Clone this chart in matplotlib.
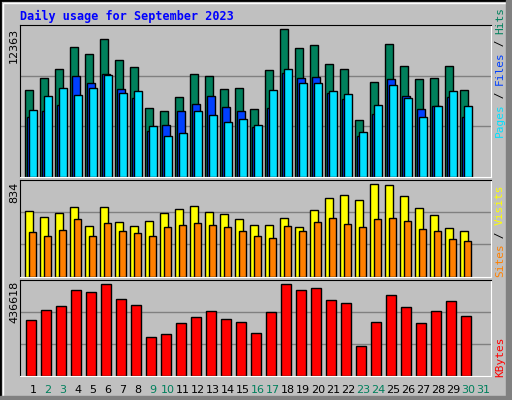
import matplotlib
matplotlib.use("Agg")
import matplotlib.pyplot as plt
from matplotlib.patches import Rectangle

days = list(range(1, 32))
hits_px = [86,98,107,129,122,137,116,109,69,66,79,102,100,87,88,68,106,147,128,131,112,107,57,94,132,110,97,98,110,86]
files_px = [60,66,72,100,93,102,87,78,46,52,66,73,80,70,66,50,69,103,98,99,83,77,41,63,97,80,68,71,79,60]
pages_px = [67,80,88,81,88,101,83,85,51,41,44,66,62,55,58,52,86,107,93,93,85,82,45,72,91,78,60,71,85,71]
visits_px = [196,178,190,208,151,208,163,151,166,190,202,211,193,187,172,154,154,175,148,199,235,244,229,277,274,241,205,184,145,136]
sites_px = [133,121,139,172,121,160,136,130,121,148,154,160,154,148,136,121,115,151,136,163,175,157,148,172,175,166,142,136,112,106]
kb_px = [166,196,208,256,250,274,229,211,115,124,157,175,193,169,160,127,190,274,256,262,226,217,88,160,241,205,157,193,223,178]

HITS_MAX, VIS_MAX, KB_MAX = 12363, 834, 436618
hits = [round(v * HITS_MAX / 147) for v in hits_px]
files = [round(v * HITS_MAX / 147) for v in files_px]
pages = [round(v * HITS_MAX / 147) for v in pages_px]
visits = [round(v * VIS_MAX / 277) for v in visits_px]
sites = [round(v * VIS_MAX / 277) for v in sites_px]
kbytes = [round(v * KB_MAX / 274) for v in kb_px]

weekend = {2,3,9,10,16,17,23,24,30,31}
BG = "#C0C0C0"
fig = plt.figure(figsize=(5.12, 4.0), dpi=100, facecolor=BG)
W, H = 512, 400
def fx(px): return px / W
def fy(py): return 1 - py / H

# outer border
fig.patches.append(Rectangle((0, 0), 1, 1, transform=fig.transFigure, fill=False, edgecolor="black", lw=2))
fig.patches.append(Rectangle((fx(3), fy(397)), fx(505), 394/H, transform=fig.transFigure, fill=False, edgecolor="white", lw=1))
fig.patches.append(Rectangle((fx(506), 0), fx(6), 1, transform=fig.transFigure, color="#808080"))
fig.patches.append(Rectangle((0, 0), 1, 4/H, transform=fig.transFigure, color="#808080"))

x0 = 1 - 13/15
x1 = x0 + 471/15
def mkax(top, bot, ymax):
    ax = fig.add_axes([fx(20), fy(bot), fx(471), (bot-top)/H])
    ax.set_facecolor(BG)
    ax.set_xlim(x0, x1)
    ax.set_ylim(0, ymax)
    for g in (ymax/3, 2*ymax/3):
        ax.axhline(g, color="#808080", lw=1, zorder=0)
    ax.set_xticks([]); ax.set_yticks([])
    for s in ("left", "top"):
        ax.spines[s].set_color("black")
    for s in ("right", "bottom"):
        ax.spines[s].set_color("white")
    return ax

ax1 = mkax(25, 177, HITS_MAX * 151 / 147)
ax2 = mkax(180, 277, VIS_MAX * 289 / 277 / 3 * 1.0 * 3 * 97 / 96.3)
ax2.set_ylim(0, VIS_MAX * 96.3 / 92.3)
ax3 = mkax(280, 376, KB_MAX * 95 / 91.3)

d = days[:len(hits)]
kw = dict(align="edge", edgecolor="black", linewidth=1)
ax1.bar([x - 8/15 for x in d], hits, width=8/15, color="#00805C", **kw)
ax1.bar([x - 6/15 for x in d], files, width=8/15, color="#0040FF", **kw)
ax1.bar([x - 4/15 for x in d], pages, width=8/15, color="#00E0FF", **kw)
ax2.bar([x - 8/15 for x in d], visits, width=8/15, color="#FFFF00", **kw)
ax2.bar([x - 4/15 for x in d], sites, width=7/15, color="#FF8000", **kw)
ax3.bar([x - 7/15 for x in d], kbytes, width=10/15, color="#FF0000", **kw)

mono = "DejaVu Sans Mono"
fig.text(fx(20), fy(16), "Daily usage for September 2023", color="#0000FF", fontsize=8.5,
         fontweight="bold", family=mono, va="center")
for lab, py in ((str(HITS_MAX), 45), (str(VIS_MAX), 192), (str(KB_MAX), 302)):
    fig.text(fx(14), fy(py), lab, rotation=90, ha="center", va="center", fontsize=8, color="black")
for i in days:
    fig.text(fx(33 + 15*(i-1)), fy(390), str(i), ha="center", va="center", fontsize=8,
             color="#00805C" if i in weekend else "black")

def rlabel(parts, ybottom):
    y = ybottom
    for txt, col in parts:
        t = fig.text(fx(500), fy(y), txt, rotation=90, ha="center", va="bottom", fontsize=8,
                     family=mono, color=col)
        y -= 6.2 * len(txt) + 1
rlabel([("Pages", "#00E0FF"), (" / ", "black"), ("Files", "#0040FF"), (" / ", "black"), ("Hits", "#00805C")], 137)
rlabel([("Sites", "#FF8000"), (" / ", "black"), ("Visits", "#FFFF00")], 277)
rlabel([("KBytes", "#FF0000")], 377)

fig.savefig("out.png", dpi=100, facecolor=BG)
